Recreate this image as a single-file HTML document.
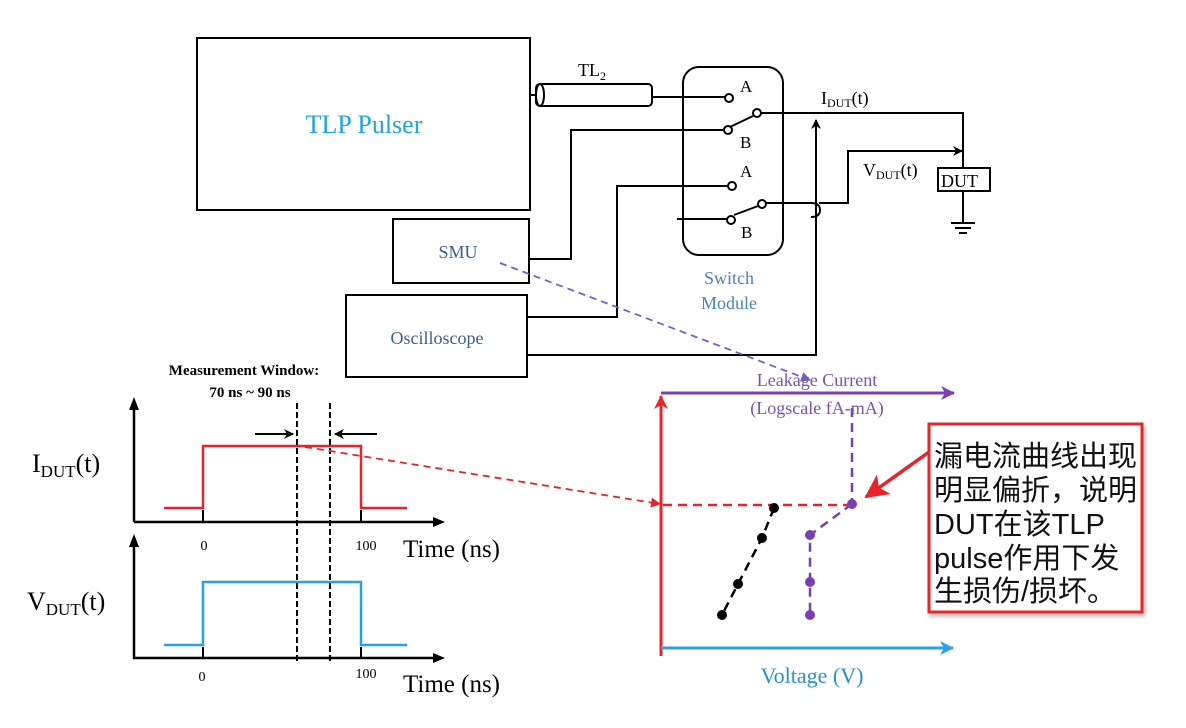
<!DOCTYPE html>
<html><head><meta charset="utf-8"><style>
html,body{margin:0;padding:0;background:#fff;}
svg{display:block;}
.s{font-family:"Liberation Serif",serif;}
</style></head><body>
<svg width="1186" height="728" viewBox="0 0 1186 728" xmlns="http://www.w3.org/2000/svg">
<defs>
<marker id="ak" markerWidth="10" markerHeight="10" refX="9" refY="5" orient="auto" markerUnits="userSpaceOnUse"><path d="M0,0 L10,5 L0,10 L3,5 Z" fill="#000"/></marker>
<marker id="ar" markerWidth="14" markerHeight="14" refX="13" refY="7" orient="auto" markerUnits="userSpaceOnUse"><path d="M0,0 L14,7 L0,14 L4,7 Z" fill="#e8242a"/></marker>
<marker id="ap" markerWidth="14" markerHeight="14" refX="13" refY="7" orient="auto" markerUnits="userSpaceOnUse"><path d="M0,0 L14,7 L0,14 L4,7 Z" fill="#7b3fb5"/></marker>
<marker id="ab" markerWidth="14" markerHeight="14" refX="13" refY="7" orient="auto" markerUnits="userSpaceOnUse"><path d="M0,0 L14,7 L0,14 L4,7 Z" fill="#2aa0e8"/></marker>
<marker id="apd" markerWidth="10" markerHeight="10" refX="9" refY="5" orient="auto" markerUnits="userSpaceOnUse"><path d="M0,0 L10,5 L0,10 Z" fill="#7a5fc0"/></marker>
<marker id="ard" markerWidth="10" markerHeight="10" refX="9" refY="5" orient="auto" markerUnits="userSpaceOnUse"><path d="M0,0 L10,5 L0,10 Z" fill="#e8242a"/></marker>
<marker id="arb" markerWidth="24" markerHeight="24" refX="22" refY="12" orient="auto" markerUnits="userSpaceOnUse"><path d="M0,0 L24,12 L0,24 L6,12 Z" fill="#e8242a"/></marker>
<filter id="sh" x="-10%" y="-10%" width="130%" height="130%"><feDropShadow dx="2" dy="3" stdDeviation="2" flood-color="#888" flood-opacity="0.6"/></filter>
</defs>

<g fill="none" stroke="#000" stroke-width="2">
<rect x="197" y="38" width="333" height="172"/>
<rect x="393" y="219" width="136" height="64"/>
<rect x="346" y="295" width="181" height="82"/>
<rect x="536" y="84" width="116" height="22" rx="4"/>
<ellipse cx="540" cy="95" rx="4" ry="11"/>
<line x1="530" y1="95" x2="536" y2="95"/>
<line x1="652" y1="97" x2="725" y2="97"/>
<rect x="683" y="67" width="100" height="188" rx="16"/>
<polyline points="529,259 571,259 571,130 724,130"/>
<line x1="730" y1="127" x2="753" y2="116"/>
<polyline points="761,113 963,113 963,168"/>
<rect x="938" y="168" width="52" height="23"/>
<line x1="963" y1="191" x2="963" y2="223"/>
<line x1="951" y1="223" x2="975" y2="223"/>
<line x1="955" y1="228" x2="971" y2="228"/>
<line x1="959" y1="233" x2="967" y2="233"/>
<polyline points="527,317 617,317 617,186 728,186"/>
<line x1="677" y1="219" x2="727" y2="219"/>
<line x1="734" y1="215" x2="758" y2="206"/>
<path d="M766,203 L811,203 Q820,203 820,210 Q820,217 811,217"/>
<polyline points="527,355 816,355 816,120" marker-end="url(#ak)"/>
<polyline points="819,203 848,203 848,151 962,151" marker-end="url(#ak)"/>
</g>
<g fill="#fff" stroke="#000" stroke-width="2">
<circle cx="729" cy="98" r="4"/>
<circle cx="728" cy="130" r="4"/>
<circle cx="757" cy="113" r="4"/>
<circle cx="732" cy="186" r="4"/>
<circle cx="731" cy="220" r="4"/>
<circle cx="762" cy="204" r="4"/>
</g>
<g class="s" font-size="17" fill="#000">
<text x="740" y="92">A</text>
<text x="740" y="148">B</text>
<text x="740" y="177">A</text>
<text x="741" y="238">B</text>
<text x="578" y="76" font-size="18">TL<tspan font-size="12" dy="4">2</tspan></text>
<text x="821" y="104" font-size="18">I<tspan font-size="12" dy="3">DUT</tspan><tspan dy="-3">(t)</tspan></text>
<text x="863" y="176" font-size="18">V<tspan font-size="12" dy="3">DUT</tspan><tspan dy="-3">(t)</tspan></text>
<text x="941" y="187" font-size="18">DUT</text>
</g>
<text class="s" x="364" y="133" font-size="26" fill="#1ea6e0" text-anchor="middle">TLP Pulser</text>
<text class="s" x="458" y="258" font-size="18" fill="#3a5f8a" text-anchor="middle">SMU</text>
<text class="s" x="437" y="344" font-size="18" fill="#3a5f8a" text-anchor="middle">Oscilloscope</text>
<text class="s" x="729" y="284" font-size="18" fill="#4a85b5" text-anchor="middle">Switch</text>
<text class="s" x="729" y="309" font-size="18" fill="#4a85b5" text-anchor="middle">Module</text>

<line x1="500" y1="263" x2="810" y2="380" stroke="#7a5fc0" stroke-width="1.8" stroke-dasharray="7,5" marker-end="url(#apd)"/>

<g fill="none" stroke="#000" stroke-width="2.5">
<polyline points="134,522 134,405"/>
<line x1="134" y1="522" x2="435" y2="522"/>
<polyline points="134,545 134,658 435,658" />
</g>
<path d="M129,410 L134,397 L139,410 Z" fill="#000"/>
<path d="M129,547 L134,534 L139,547 Z" fill="#000"/>
<path d="M433,653 L445,658 L433,663 Z" fill="#000"/>
<path d="M433,517 L445,522 L433,527 Z" fill="#000"/>
<polyline points="164,508 203,508 203,446 361,446 361,508 407,508" fill="none" stroke="#e8242a" stroke-width="2.5"/>
<polyline points="164,645 203,645 203,582 361,582 361,645 407,645" fill="none" stroke="#2aa0e8" stroke-width="2.5"/>
<g stroke="#000" stroke-width="2">
<line x1="203" y1="510" x2="203" y2="522"/><line x1="361" y1="510" x2="361" y2="522"/>
<line x1="203" y1="647" x2="203" y2="658"/><line x1="361" y1="647" x2="361" y2="658"/>
<line x1="297" y1="403" x2="297" y2="662" stroke-dasharray="6,3"/>
<line x1="330" y1="403" x2="330" y2="662" stroke-dasharray="6,3"/>
<line x1="255" y1="434" x2="293" y2="434" marker-end="url(#ak)"/>
<line x1="377" y1="434" x2="335" y2="434" marker-end="url(#ak)"/>
</g>
<g class="s" fill="#000">
<text x="244" y="375" font-size="15" font-weight="bold" text-anchor="middle">Measurement Window:</text>
<text x="250" y="397" font-size="15" font-weight="bold" text-anchor="middle">70 ns ~ 90 ns</text>
<text x="32" y="472" font-size="26">I<tspan font-size="17" dy="5">DUT</tspan><tspan dy="-5">(t)</tspan></text>
<text x="27" y="610" font-size="26">V<tspan font-size="17" dy="5">DUT</tspan><tspan dy="-5">(t)</tspan></text>
<text x="204" y="550" font-size="14" text-anchor="middle">0</text>
<text x="366" y="550" font-size="14" text-anchor="middle">100</text>
<text x="202" y="681" font-size="14" text-anchor="middle">0</text>
<text x="366" y="678" font-size="14" text-anchor="middle">100</text>
<text x="403" y="557" font-size="25">Time (ns)</text>
<text x="403" y="692" font-size="25">Time (ns)</text>
</g>

<line x1="305" y1="447" x2="660" y2="504" stroke="#e8242a" stroke-width="1.8" stroke-dasharray="7,5" marker-end="url(#ard)"/>

<line x1="661" y1="656" x2="661" y2="396" stroke="#e8242a" stroke-width="3" marker-end="url(#ar)"/>
<line x1="661" y1="393" x2="954" y2="393" stroke="#7b3fb5" stroke-width="3" marker-end="url(#ap)"/>
<line x1="661" y1="648" x2="953" y2="648" stroke="#2aa0e8" stroke-width="3" marker-end="url(#ab)"/>
<text class="s" x="817" y="386" font-size="18" fill="#7b52b0" text-anchor="middle">Leakage Current</text>
<text class="s" x="817" y="414" font-size="18" fill="#7b52b0" text-anchor="middle">(Logscale fA-mA)</text>
<text class="s" x="812" y="683" font-size="22" fill="#2a8fd0" text-anchor="middle">Voltage (V)</text>
<line x1="663" y1="505" x2="848" y2="505" stroke="#e8242a" stroke-width="2.5" stroke-dasharray="9,6"/>
<line x1="852" y1="408" x2="852" y2="502" stroke="#7b3fb5" stroke-width="2.5" stroke-dasharray="9,6"/>
<polyline points="852,504 810,535 810,615" fill="none" stroke="#7b3fb5" stroke-width="2.5" stroke-dasharray="9,6"/>
<polyline points="774,508 762,538 738,584 722,615" fill="none" stroke="#000" stroke-width="2.5" stroke-dasharray="9,6"/>
<g fill="#7b3fb5"><circle cx="852" cy="504" r="5"/><circle cx="810" cy="535" r="5"/><circle cx="810" cy="582" r="5"/><circle cx="810" cy="615" r="5"/></g>
<g fill="#000"><circle cx="774" cy="508" r="5"/><circle cx="762" cy="538" r="5"/><circle cx="738" cy="584" r="5"/><circle cx="722" cy="615" r="5"/></g>

<rect x="929" y="424" width="213" height="188" fill="#fff" stroke="#e02a2a" stroke-width="3" filter="url(#sh)"/>
<line x1="929" y1="452" x2="866" y2="497" stroke="#e8242a" stroke-width="3.5" marker-end="url(#arb)"/>
<g font-family="'Liberation Sans','Noto Sans CJK SC',sans-serif" font-size="29" fill="#111">
<text x="934" y="466">漏电流曲线出现</text>
<text x="934" y="500">明显偏折，说明</text>
<text x="934" y="534">DUT在该TLP</text>
<text x="934" y="568">pulse作用下发</text>
<text x="934" y="601">生损伤/损坏。</text>
</g>
</svg>
</body></html>
